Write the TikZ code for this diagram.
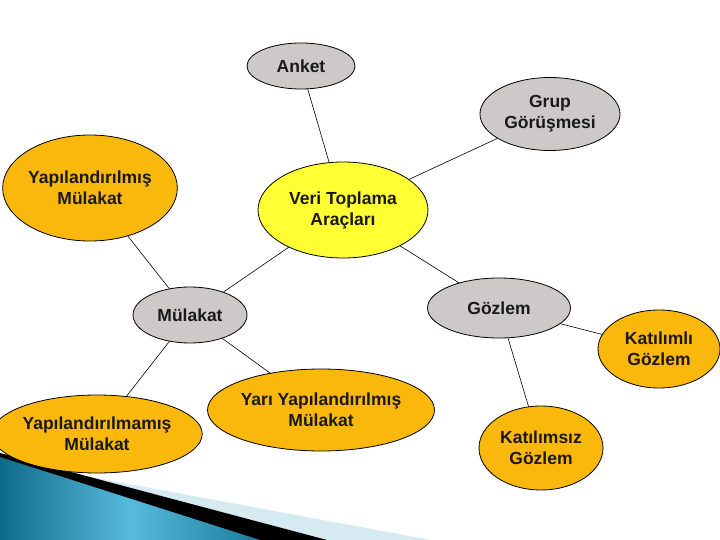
\documentclass[tikz,border=0pt]{standalone}
\usepackage{fontspec}
\setmainfont{Liberation Sans}
\usetikzlibrary{shapes.geometric}
\definecolor{orng}{RGB}{250,184,12}
\definecolor{gry}{RGB}{205,201,201}
\definecolor{yel}{RGB}{255,255,51}
\definecolor{tealdark}{RGB}{14,106,136}
\definecolor{teallight}{RGB}{88,186,220}
\definecolor{tealmid}{RGB}{25,125,158}
\definecolor{paleblue}{RGB}{214,234,241}
\tikzset{
  bub/.style={ellipse, draw=black, line width=0.8pt, inner sep=0pt, align=center,
    font=\fontsize{17.5}{21}\selectfont\bfseries, text=black!90},
  orb/.style={bub, fill=orng},
  grb/.style={bub, fill=gry},
  yeb/.style={bub, fill=yel},
  link/.style={draw=black, line width=0.6pt}
}
\begin{document}
\begin{tikzpicture}[x=1pt,y=-1pt]
\useasboundingbox (0,0) rectangle (720,540);
\fill[white] (0,0) rectangle (720,540);
% decoration bottom-left
\fill[paleblue] (0,460) -- (150,488) -- (350,525) -- (431,540) -- (0,540) -- cycle;
\fill[black] (0,453) -- (150,493) -- (327,540) -- (0,540) -- cycle;
\shade[left color=tealdark, right color=tealmid, middle color=teallight]
  (0,457) -- (260,540) -- (0,540) -- cycle;
% connectors
\coordinate (cAnket) at (301,66);
% nodes
\node[grb, minimum width=108pt, minimum height=46pt] (anket) at (301,66) {Anket};
\node[grb, minimum width=140pt, minimum height=73pt] (grup) at (550,114) {Grup\\Görüşmesi};
\node[orb, minimum width=144pt, minimum height=106pt] (ymul) at (90,188) {Yapılandırılmış\\Mülakat};
\node[yeb, minimum width=170pt, minimum height=96pt] (veri) at (343,210) {Veri Toplama\\Araçları};
\node[grb, minimum width=114pt, minimum height=56pt] (mul) at (190,315) {Mülakat};
\node[grb, minimum width=143pt, minimum height=60pt] (goz) at (499,308) {Gözlem};
\node[orb, minimum width=122pt, minimum height=78pt] (katli) at (659,349) {Katılımlı\\Gözlem};
\node[orb, minimum width=124pt, minimum height=84pt] (katsiz) at (541,448) {Katılımsız\\Gözlem};
\node[orb, minimum width=194pt, minimum height=78pt] (yapma) at (97,434) {Yapılandırılmamış\\Mülakat};
\node[orb, minimum width=194pt, minimum height=82pt] (yari) at (321,410) {Yarı Yapılandırılmış\\Mülakat};
% edges
\draw[link] (anket) -- (veri);
\draw[link] (grup) -- (veri);
\draw[link] (ymul) -- (mul);
\draw[link] (veri) -- (mul);
\draw[link] (veri) -- (goz);
\draw[link] (mul) -- (yapma);
\draw[link] (mul) -- (yari);
\draw[link] (goz) -- (katli);
\draw[link] (goz) -- (katsiz);
\end{tikzpicture}
\end{document}
